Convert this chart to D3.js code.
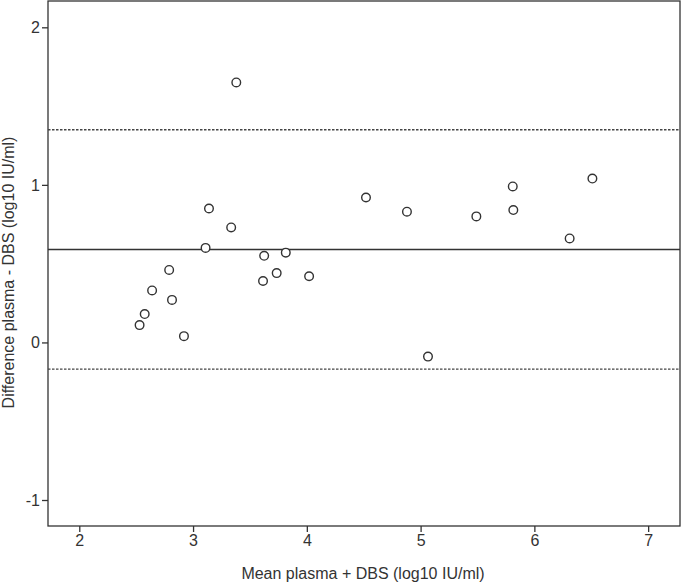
<!DOCTYPE html>
<html>
<head>
<meta charset="utf-8">
<script src="https://d3js.org/d3.v7.min.js"></script>
<style>
  body { margin: 0; background: #fff; }
  svg text { font-family: "Liberation Sans", Arial, sans-serif; fill: #333; }
</style>
</head>
<body>
<div id="chart"></div>
<script>
// mean of plasma and DBS (log10 IU/ml)
const meanVals = [2.53, 2.575, 2.64, 2.79, 2.815, 2.92, 3.11, 3.14, 3.335, 3.38, 3.625, 3.615,
  3.735, 3.815, 4.02, 4.52, 4.88, 5.065, 5.49, 5.81, 5.815, 6.31, 6.51];
// difference plasma - DBS
const diffVals = [0.11, 0.18, 0.33, 0.46, 0.27, 0.04, 0.60, 0.85, 0.73, 1.65, 0.55, 0.39,
  0.44, 0.57, 0.42, 0.92, 0.83, -0.09, 0.80, 0.99, 0.84, 0.66, 1.04];
const meanDiff = 0.59;
const limits = [1.35, -0.17];
const xTicks = [2, 3, 4, 5, 6, 7];
const yTicks = [-1, 0, 1, 2];

const W = 682, H = 584;
const margin = { top: 1, right: 2, bottom: 58, left: 48 };
const width = W - margin.left - margin.right,
  height = H - margin.top - margin.bottom;

const svg = d3.select("#chart").append("svg")
  .attr("width", W).attr("height", H)
  .append("g")
  .attr("transform", `translate(${margin.left},${margin.top})`);

const x = d3.scaleLinear().domain([1.725, 7.28]).range([0, width]);
const y = d3.scaleLinear().domain([-1.165, 2.167]).range([height, 0]);

// frame
svg.append("rect")
  .attr("width", width).attr("height", height)
  .attr("fill", "none").attr("stroke", "#333").attr("stroke-width", 1.3);

const fmt = d => String(d); // plain hyphen for negatives, like the original
const xAxis = svg.append("g")
  .attr("transform", `translate(0,${height})`)
  .call(d3.axisBottom(x).tickValues(xTicks).tickSize(6).tickPadding(3).tickFormat(fmt));
const yAxis = svg.append("g")
  .call(d3.axisLeft(y).tickValues(yTicks).tickSize(6).tickPadding(2).tickFormat(fmt));
[xAxis, yAxis].forEach(a => {
  a.select(".domain").remove();
  a.selectAll("line").attr("stroke", "#333").attr("stroke-width", 1.3);
  a.selectAll("text").style("font-size", "16px").attr("fill", "#333");
});

// mean and limits of agreement
svg.append("line")
  .attr("x1", 0).attr("x2", width)
  .attr("y1", y(meanDiff)).attr("y2", y(meanDiff))
  .attr("stroke", "#333").attr("stroke-width", 1.3);
svg.selectAll(".lim")
  .data(limits)
  .join("line")
  .attr("class", "lim")
  .attr("x1", 0).attr("x2", width)
  .attr("y1", d => y(d)).attr("y2", d => y(d))
  .attr("stroke", "#444").attr("stroke-width", 1.3)
  .attr("stroke-dasharray", "2.5,1.5");

// points
svg.selectAll(".pt")
  .data(meanVals.map((m, i) => [m, diffVals[i]]))
  .join("circle")
  .attr("class", "pt")
  .attr("cx", d => x(d[0])).attr("cy", d => y(d[1]))
  .attr("r", 4.3)
  .attr("fill", "#fff").attr("stroke", "#333").attr("stroke-width", 1.4);

// axis titles
svg.append("text")
  .attr("x", width / 2 - 1).attr("y", height + 53)
  .attr("text-anchor", "middle")
  .style("font-size", "16px")
  .text("Mean plasma + DBS (log10 IU/ml)");
svg.append("text")
  .attr("transform", `translate(${-margin.left + 14},${height / 2 + 9}) rotate(-90)`)
  .attr("text-anchor", "middle")
  .style("font-size", "16px")
  .text("Difference plasma - DBS (log10 IU/ml)");
</script>
</body>
</html>
